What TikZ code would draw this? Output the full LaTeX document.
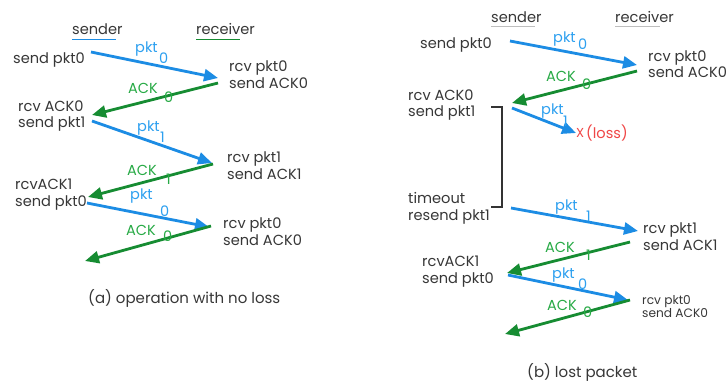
\documentclass[tikz,border=0pt]{standalone}
\usepackage{fontspec}
\setmainfont{Poppins}
\usetikzlibrary{arrows.meta}
\definecolor{txtc}{RGB}{55,55,55}
\definecolor{pktc}{RGB}{28,140,228}
\definecolor{ackc}{RGB}{22,140,50}
\definecolor{pktl}{RGB}{45,160,240}
\definecolor{ackl}{RGB}{40,170,70}
\definecolor{lossc}{RGB}{240,70,70}
\definecolor{ulc}{RGB}{190,190,190}
\begin{document}
\begin{tikzpicture}[x=1pt,y=-1pt,
  txt/.style={font=\fontsize{14.6}{16.5}\selectfont, text=txtc, inner sep=0pt, anchor=west, align=left},
  smalltxt/.style={font=\fontsize{12.2}{13.5}\selectfont, text=txtc, inner sep=0pt, anchor=west, align=left},
  pktlbl/.style={font=\fontsize{14.5}{16}\selectfont, text=pktl, inner sep=0pt, anchor=west},
  acklbl/.style={font=\fontsize{14.5}{16}\selectfont, text=ackl, inner sep=0pt, anchor=west},
  pktarrow/.style={draw=pktc, line width=2.8pt, -{Triangle[length=14pt,width=12pt]}},
  ackarrow/.style={draw=ackc, line width=2.8pt, -{Triangle[length=14pt,width=12pt]}},
]
\useasboundingbox (0,0) rectangle (727,384);
\fill[white] (0,0) rectangle (727,384);

% ---------------- left panel (a) ----------------
\node[txt] (sendA) at (72,29) {sender};
\node[txt] (recvA) at (196,29) {receiver};
\draw[pktc, line width=1.6pt] (72,39.5) -- (116,39.5);
\draw[ackc, line width=1.6pt] (196,39.5) -- (240,39.5);

\node[txt] (a1) at (13,60) {send pkt0};
\node[txt] (a2) at (229,74.5) {rcv pkt0\\send ACK0};
\node[txt] (a3) at (18,116) {rcv ACK0\\send pkt1};
\node[txt] (a4) at (227,165.5) {rcv pkt1\\send ACK1};
\node[txt] (a5) at (15,194.5) {rcvACK1\\send pkt0};
\node[txt] (a6) at (223,231.5) {rcv pkt0\\send ACK0};

\coordinate (a1s) at (91,52);  \coordinate (a2t) at (218,78);
\coordinate (a2s) at (218,83); \coordinate (a3t) at (92,115);
\coordinate (a3s) at (92,121); \coordinate (a4t) at (212,163);
\coordinate (a4s) at (213,164);\coordinate (a5t) at (88,197);
\coordinate (a5s) at (87,203); \coordinate (a6t) at (209,227);
\coordinate (a6s) at (211,226);\coordinate (a7t) at (85,261);

\draw[pktarrow] (a1s) -- (a2t);
\draw[ackarrow] (a2s) -- (a3t);
\draw[pktarrow] (a3s) -- (a4t);
\draw[ackarrow] (a4s) -- (a5t);
\draw[pktarrow] (a5s) -- (a6t);
\draw[ackarrow] (a6s) -- (a7t);

\node[pktlbl] (pa1) at (135,49) {pkt};   \node[pktlbl] (pa1n) at (159,58) {0};
\node[acklbl] (aa1) at (128,88) {ACK};   \node[acklbl] (aa1n) at (164,97) {0};
\node[pktlbl] (pa2) at (137,128) {pkt};  \node[pktlbl] (pa2n) at (160,137) {1};
\node[acklbl] (aa2) at (127,170) {ACK};  \node[acklbl] (aa2n) at (166,179) {1};
\node[pktlbl] (pa3) at (130,196) {pkt};  \node[pktlbl] (pa3n) at (160,211) {0};
\node[acklbl] (aa3) at (126,230) {ACK};  \node[acklbl] (aa3n) at (163,236) {0};

\node[txt, font=\fontsize{15}{16}\selectfont] (capA) at (88,298) {(a) operation with no loss};

% ---------------- right panel (b) ----------------
\node[txt] (sendB) at (491,17) {sender};
\node[txt] (recvB) at (615,17) {receiver};
\draw[ulc, line width=0.8pt] (491,26.5) -- (535,26.5);
\draw[ulc, line width=0.8pt] (615,26.5) -- (660,26.5);

\node[txt] (b1) at (420,45) {send pkt0};
\node[txt] (b2) at (648,64) {rcv pkt0\\send ACK0};
\node[txt] (b3) at (408,105) {rcv ACK0\\send pkt1};
\node[txt] (b4) at (408,208.5) {timeout\\resend pkt1};
\node[txt] (b5) at (643,236.5) {rcv pkt1\\send ACK1};
\node[txt] (b6) at (422,271.5) {rcvACK1\\send pkt0};
\node[smalltxt] (b7) at (642,306.5) {rcv pkt0\\send ACK0};

\node[txt, text=lossc, font=\fontsize{13}{16}\selectfont] (loss) at (576,133) {X};
\node[txt, text=lossc] (lossl) at (586,133) {(loss)};

\coordinate (b1s) at (510,41);  \coordinate (b2t) at (637,65);
\coordinate (b2s) at (637,71);  \coordinate (b3t) at (512,103);
\coordinate (b3s) at (512,108);
\coordinate (b4s) at (511,208); \coordinate (b5t) at (638,231);
\coordinate (b5s) at (630,242); \coordinate (b6t) at (507,273);
\coordinate (b6s) at (508,275); \coordinate (b7t) at (628,300);
\coordinate (b7s) at (630,300); \coordinate (b8t) at (505,334);

\draw[pktarrow] (b1s) -- (b2t);
\draw[ackarrow] (b2s) -- (b3t);
\draw[pktarrow] (b3s) -- (loss.west);
\draw[pktarrow] (b4s) -- (b5t);
\draw[ackarrow] (b5s) -- (b6t);
\draw[pktarrow] (b6s) -- (b7t);
\draw[ackarrow] (b7s) -- (b8t);

% bracket
\coordinate (br1) at (491,107); \coordinate (br2) at (502,107);
\coordinate (br3) at (502,207); \coordinate (br4) at (491,207);
\draw[black!80, line width=1.5pt] (br1) -- (br2) -- (br3) -- (br4);

\node[pktlbl] (pb1) at (553,39) {pkt};   \node[pktlbl] (pb1n) at (578,44) {0};
\node[acklbl] (ab1) at (546,76) {ACK};   \node[acklbl] (ab1n) at (582,84) {0};
\node[pktlbl] (pb2) at (541,111) {pkt};  \node[pktlbl] (pb2n) at (563,121) {1};
\node[pktlbl] (pb3) at (555,207) {pkt};  \node[pktlbl] (pb3n) at (586,216) {1};
\node[acklbl] (ab2) at (545,247) {ACK};  \node[acklbl] (ab2n) at (586,255) {1};
\node[pktlbl] (pb4) at (552,275) {pkt};  \node[pktlbl] (pb4n) at (578,284) {0};
\node[acklbl] (ab3) at (547,305) {ACK};  \node[acklbl] (ab3n) at (583,312) {0};

\node[txt, font=\fontsize{15}{16}\selectfont] (capB) at (527,372) {(b) lost packet};
\end{tikzpicture}
\end{document}
